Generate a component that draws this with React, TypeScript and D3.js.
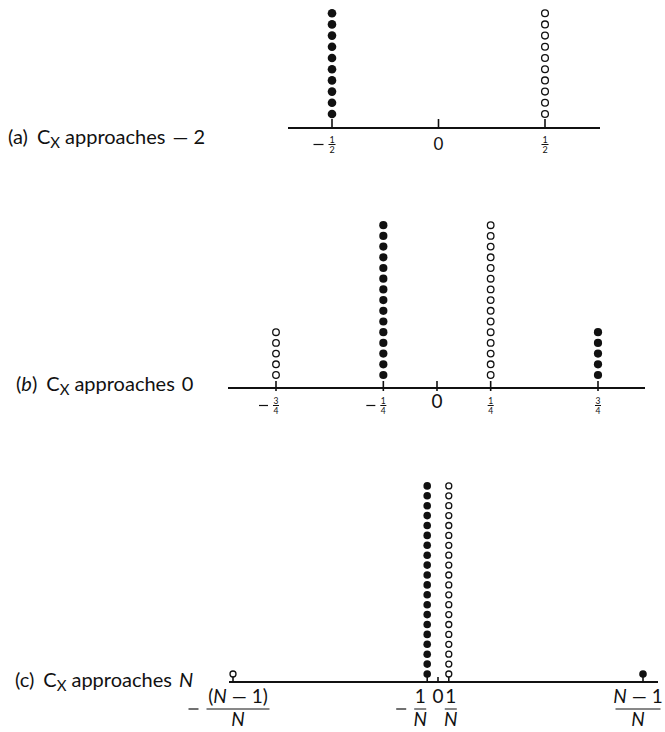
import { useEffect, FC } from 'react';
import * as d3 from 'd3';

const W = 665;
const H = 732;
const N = 20;

// panel titles
const panelTags = ['a', 'b', 'c'];
const panelTargets = ['— 2', '0', 'N'];

// (a) C_X approaches -2
const aPositions = [-1 / 2, 1 / 2];
const aCounts = [10, 10];
const aFilled = [true, false];
const aTicks = [-1 / 2, 0, 1 / 2];
const aTickLabels = [
    { sign: true, num: '1', den: '2' },
    { sign: false, num: '0', den: '' },
    { sign: false, num: '1', den: '2' },
];

// (b) C_X approaches 0
const bPositions = [-3 / 4, -1 / 4, 1 / 4, 3 / 4];
const bCounts = [5, 15, 15, 5];
const bFilled = [false, true, false, true];
const bTicks = [-3 / 4, -1 / 4, 0, 1 / 4, 3 / 4];
const bTickLabels = [
    { sign: true, num: '3', den: '4' },
    { sign: true, num: '1', den: '4' },
    { sign: false, num: '0', den: '' },
    { sign: false, num: '1', den: '4' },
    { sign: false, num: '3', den: '4' },
];

// (c) C_X approaches N
const cPositions = [-(N - 1) / N, -1 / N, 1 / N, (N - 1) / N];
const cCounts = [1, 20, 20, 1];
const cFilled = [false, true, false, true];
const cTicks = [-(N - 1) / N, -1 / N, 0, 1 / N, (N - 1) / N];
const cTickLabels = [
    { sign: true, num: '(N — 1)', den: 'N' },
    { sign: true, num: '1', den: 'N' },
    { sign: false, num: '0', den: '' },
    { sign: false, num: '1', den: 'N' },
    { sign: false, num: 'N — 1', den: 'N' },
];

interface Layout {
    axisY: number; x0: number; x1: number;
    domain: [number, number]; range: [number, number];
    step: number; lift: number; rF: number; rO: number;
    tickUp: number; tickDown: number;
    fracSize: number; numDy: number; barDy: number; denDy: number; charW: number; minBar: number;
    signGap: number; signLen: number;
    zeroSize: number; zeroDy: number;
    nudge: number[];
    titleX: number; titleY: number; titleItalic: boolean;
}

const layouts: Layout[] = [
    {
        axisY: 128, x0: 288, x1: 600, domain: [-0.5, 0.5], range: [332, 545],
        step: 11.2, lift: 14, rF: 4.3, rO: 3.4, tickUp: 9, tickDown: 1,
        fracSize: 9, numDy: 15, barDy: 16.5, denDy: 25, charW: 6, minBar: 7,
        signGap: 5, signLen: 10, zeroSize: 17, zeroDy: 22, nudge: [0, 0, 0],
        titleX: 8, titleY: 144, titleItalic: false,
    },
    {
        axisY: 388, x0: 228, x1: 645, domain: [-0.75, 0.75], range: [276, 598],
        step: 10.7, lift: 13, rF: 4.1, rO: 3.3, tickUp: 7, tickDown: 3,
        fracSize: 8.5, numDy: 16, barDy: 17.5, denDy: 25.5, charW: 6, minBar: 6,
        signGap: 5, signLen: 9, zeroSize: 19, zeroDy: 20, nudge: [0, 0, 0, 0, 0],
        titleX: 16, titleY: 391, titleItalic: true,
    },
    {
        axisY: 682, x0: 229, x1: 658, domain: [-0.95, 0.95], range: [233, 643],
        step: 9.9, lift: 8, rF: 3.8, rO: 3.0, tickUp: 5, tickDown: 1,
        fracSize: 19, numDy: 21, barDy: 27, denDy: 44, charW: 9, minBar: 12,
        signGap: 8, signLen: 10, zeroSize: 19, zeroDy: 21, nudge: [5, -7, 0, 2, -5],
        titleX: 15, titleY: 687, titleItalic: false,
    },
];

const INK = '#111';
const FONT = 'Lato, "Open Sans", sans-serif';

// render text with every N in italics
const withItalicN = (s: string) =>
    s.split(/(N)/).filter(p => p !== '').map((p, i) =>
        p === 'N'
            ? <tspan key={i} fontStyle="italic">N</tspan>
            : <tspan key={i}>{p}</tspan>
    );

interface PanelProps {
    idx: number;
    positions: number[];
    counts: number[];
    filled: boolean[];
    ticks: number[];
    labels: { sign: boolean; num: string; den: string }[];
}

const Panel: FC<PanelProps> = ({ idx, positions, counts, filled, ticks, labels }) => {
    const L = layouts[idx];
    const x = d3.scaleLinear().domain(L.domain).range(L.range);
    const y = d3.scaleLinear().domain([0, 1]).range([L.axisY - L.lift, L.axisY - L.lift - L.step]);

    const dots = positions.flatMap((p, i) =>
        d3.range(counts[i]).map(k => ({ p, k, f: filled[i] })));

    return (
        <g>
            {/* title */}
            <text x={L.titleX} y={L.titleY} fontFamily={FONT} fontSize={20} fill={INK}>
                <tspan>(</tspan>
                <tspan fontStyle={L.titleItalic ? 'italic' : 'normal'}>{panelTags[idx]}</tspan>
                <tspan>)</tspan>
                <tspan dx={9}>C</tspan>
                <tspan fontSize={15} dy={4}>X</tspan>
                <tspan dx={5} dy={-4}>approaches</tspan>
                <tspan dx={7}>{withItalicN(panelTargets[idx])}</tspan>
            </text>

            <line x1={L.x0} x2={L.x1} y1={L.axisY} y2={L.axisY} stroke={INK} strokeWidth={2} />
            {ticks.map((t, i) => (
                <line key={i} x1={x(t)} x2={x(t)} y1={L.axisY + L.tickDown} y2={L.axisY - L.tickUp}
                      stroke={INK} strokeWidth={1.6} />
            ))}

            {dots.map((d, i) => (
                <circle key={i} cx={x(d.p)} cy={y(d.k)} r={d.f ? L.rF : L.rO}
                        fill={d.f ? INK : '#fff'} stroke={INK} strokeWidth={d.f ? 0 : 1.3} />
            ))}

            {labels.map((lab, i) => {
                const cx = x(ticks[i]) + L.nudge[i];
                if (!lab.den) {
                    return (
                        <text key={i} x={cx} y={L.axisY + L.zeroDy} textAnchor="middle"
                              fontFamily={FONT} fontSize={L.zeroSize} fill={INK}>{lab.num}</text>
                    );
                }
                const bw = Math.max(L.minBar, Math.max(lab.num.length, lab.den.length) * L.charW);
                const left = cx - bw / 2;
                return (
                    <g key={i} fill={INK} fontFamily={FONT} fontSize={L.fracSize}>
                        {lab.sign && (
                            <line x1={left - L.signGap - L.signLen} x2={left - L.signGap}
                                  y1={L.axisY + L.barDy} y2={L.axisY + L.barDy} stroke={INK} strokeWidth={1.2} />
                        )}
                        <text x={cx} y={L.axisY + L.numDy} textAnchor="middle">{withItalicN(lab.num)}</text>
                        <line x1={left} x2={left + bw} y1={L.axisY + L.barDy} y2={L.axisY + L.barDy}
                              stroke={INK} strokeWidth={1} />
                        <text x={cx} y={L.axisY + L.denDy} textAnchor="middle">{withItalicN(lab.den)}</text>
                    </g>
                );
            })}
        </g>
    );
};

export default function App() {
    useEffect(() => {
        document.body.style.margin = '0';
    }, []);

    return (
        <svg width={W} height={H} viewBox={`0 0 ${W} ${H}`} style={{ display: 'block', background: '#fff' }}>
            <Panel idx={0} positions={aPositions} counts={aCounts} filled={aFilled} ticks={aTicks} labels={aTickLabels} />
            <Panel idx={1} positions={bPositions} counts={bCounts} filled={bFilled} ticks={bTicks} labels={bTickLabels} />
            <Panel idx={2} positions={cPositions} counts={cCounts} filled={cFilled} ticks={cTicks} labels={cTickLabels} />
        </svg>
    );
}
